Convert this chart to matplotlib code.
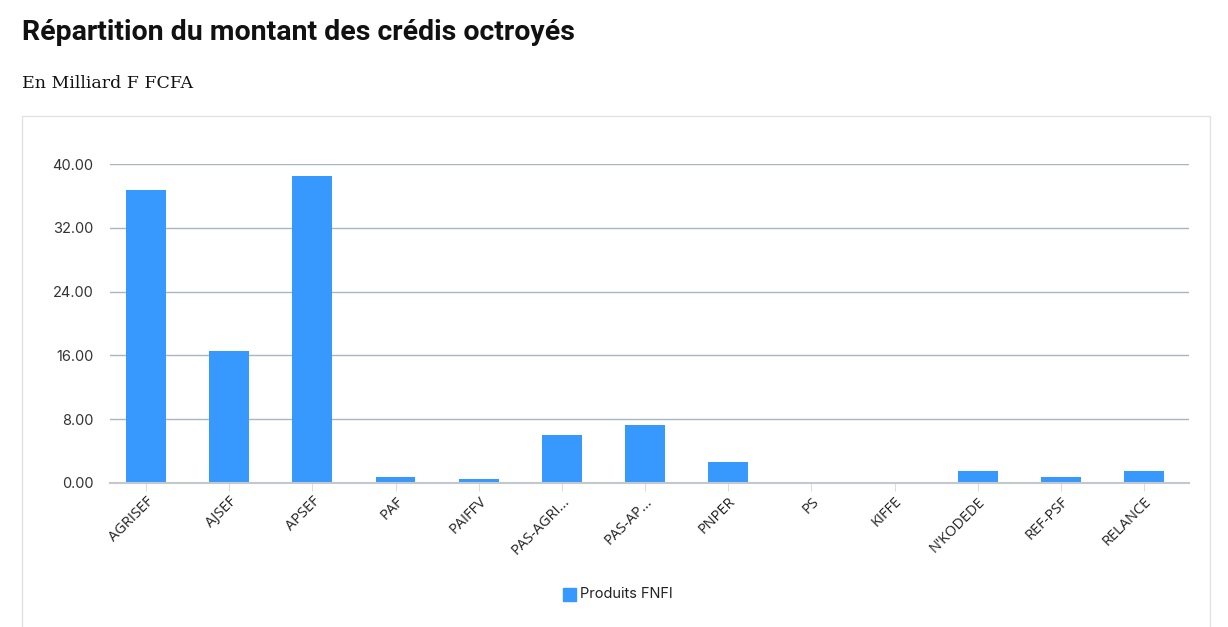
import matplotlib.pyplot as plt
from matplotlib.patches import Rectangle
import numpy as np

# data
categories = ['AGRISEF', 'AJSEF', 'APSEF', 'PAF', 'PAIFFV', 'PAS-AGRI...',
              'PAS-AP...', 'PNPER', 'PS', 'KIFFE', "N'KODEDE", 'REF-PSF', 'RELANCE']
montants = [36.7, 16.5, 38.5, 0.8, 0.5, 6.0, 7.3, 2.6, 0.0, 0.0, 1.5, 0.8, 1.5]
yticks = [0, 8, 16, 24, 32, 40]
series_name = 'Produits FNFI'

blue = '#3798fd'

fig = plt.figure(figsize=(12.28, 6.27), dpi=100)

# card frame
fig.patches.append(Rectangle((22 / 1228, -0.01), (1210 - 22) / 1228, 1 - 116 / 627 + 0.01,
                             transform=fig.transFigure, fill=False,
                             edgecolor='#e2e2e2', lw=1))

ax = fig.add_axes([110 / 1228, 1 - 483 / 627, (1189 - 110) / 1228, (483 - 164) / 627])
x = np.arange(len(categories))
ax.bar(x, montants, width=0.48, color=blue, zorder=3)

ax.set_xlim(-0.433, len(categories) - 0.46)
ax.set_ylim(0, 40)
ax.set_yticks(yticks)
ax.set_yticklabels(['%.2f' % v for v in yticks], fontsize=10.5, color='#333333',
                   family='Inter')
ax.yaxis.grid(True, color='#a7b6c0', lw=1, zorder=0)
ax.tick_params(axis='y', length=0, pad=12)

ax.set_xticks(x)
ax.set_xticklabels(categories, rotation=45, ha='right', rotation_mode='anchor',
                   fontsize=10.5, color='#222222', family='Open Sans')
ax.tick_params(axis='x', length=6, color='#dddddd', pad=2)

for s in ['top', 'right', 'left']:
    ax.spines[s].set_visible(False)
ax.spines['bottom'].set_color('#c3c8cc')
ax.spines['bottom'].set_linewidth(1.5)
ax.spines['bottom'].set_zorder(4)

# legend
fig.patches.append(Rectangle((563 / 1228, 1 - 601 / 627), 13 / 1228, 13 / 627,
                             transform=fig.transFigure, color=blue))
fig.text(580 / 1228, 1 - 594 / 627, series_name, fontsize=10.5, va='center',
         family='Inter', color='#222222')

fig.text(22 / 1228, 1 - 32 / 627, 'Répartition du montant des crédis octroyés',
         fontsize=20.5, fontweight='bold', family='Roboto', va='center', color='#111111')
fig.text(22 / 1228, 1 - 84 / 627, 'En Milliard F FCFA', fontsize=12.5,
         family='DejaVu Serif', va='center', color='#111111')

fig.savefig('out.png', dpi=100)
